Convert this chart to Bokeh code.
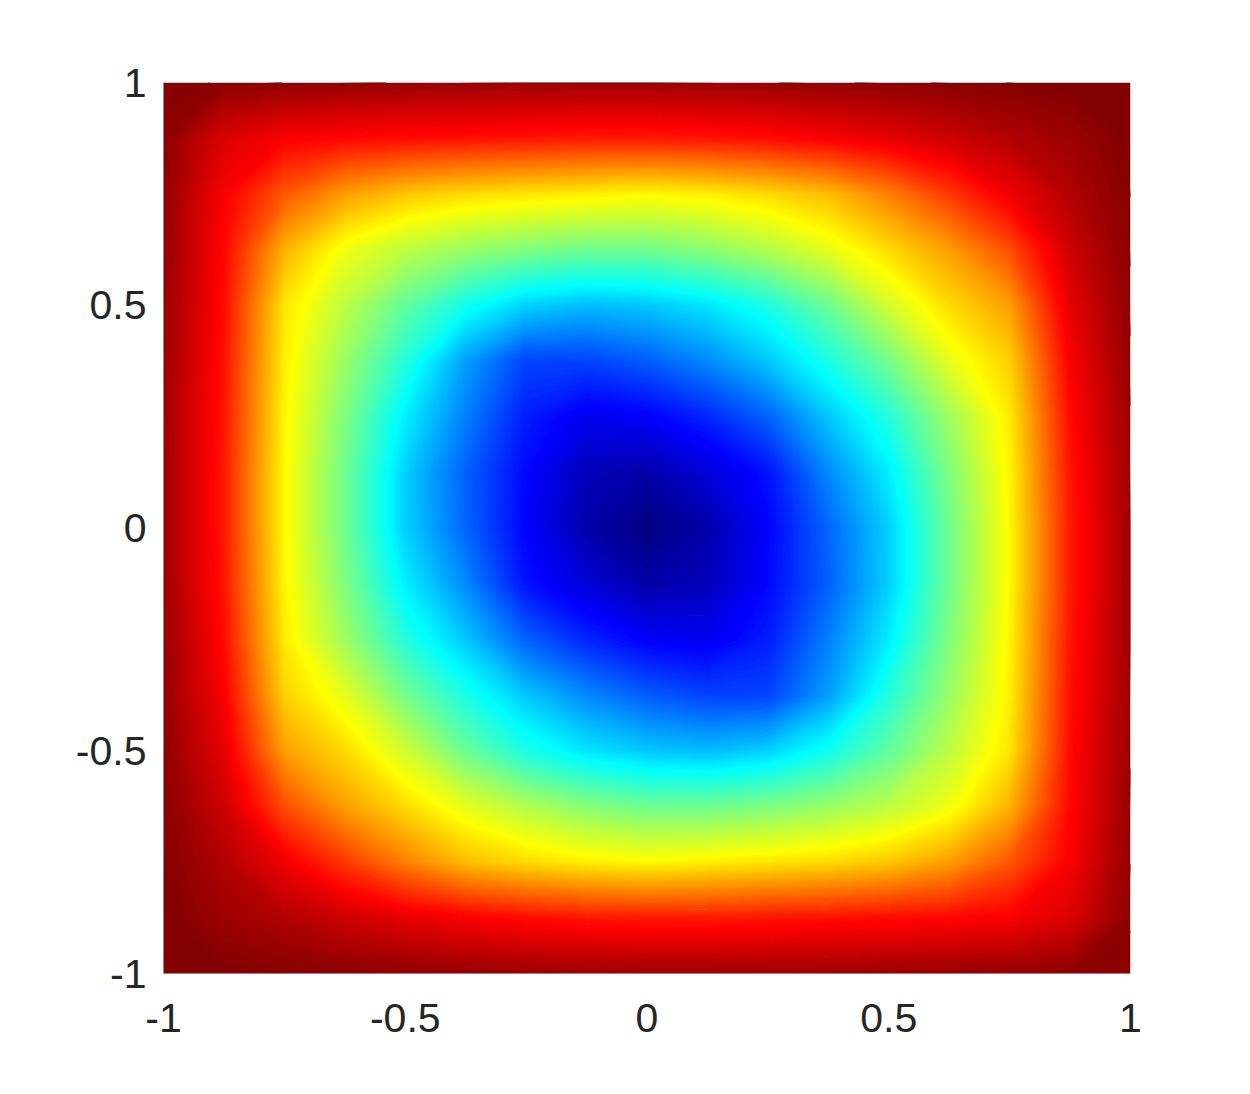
import numpy as np
from bokeh.plotting import figure
from bokeh.models import Range1d, FixedTicker
from bokeh.embed import file_html
from bokeh.resources import INLINE

# grid coordinates
x_values = [-1.0, -0.875, -0.75, -0.625, -0.5, -0.375, -0.25, -0.125, 0.0,
            0.125, 0.25, 0.375, 0.5, 0.625, 0.75, 0.875, 1.0]
y_values = [-1.0, -0.875, -0.75, -0.625, -0.5, -0.375, -0.25, -0.125, 0.0,
            0.125, 0.25, 0.375, 0.5, 0.625, 0.75, 0.875, 1.0]

# field values (fraction of colour range), one row per y
row_y_m1000 = [1.0, 1.0, 0.995, 0.99, 0.985, 0.98, 0.975, 0.972, 0.97, 0.97, 0.97, 0.972, 0.975, 0.978, 0.982, 0.988, 0.99]
row_y_m0875 = [1.0, 0.97, 0.95, 0.925, 0.9, 0.88, 0.865, 0.855, 0.85, 0.85, 0.855, 0.86, 0.865, 0.87, 0.88, 0.91, 0.988]
row_y_m0750 = [0.995, 0.95, 0.89, 0.82, 0.75, 0.69, 0.66, 0.64, 0.63, 0.64, 0.65, 0.66, 0.68, 0.72, 0.79, 0.88, 0.982]
row_y_m0625 = [0.99, 0.925, 0.8, 0.72, 0.66, 0.6, 0.55, 0.51, 0.485, 0.485, 0.5, 0.525, 0.56, 0.61, 0.70, 0.87, 0.978]
row_y_m0500 = [0.985, 0.9, 0.72, 0.66, 0.58, 0.48, 0.4, 0.35, 0.32, 0.31, 0.33, 0.39, 0.47, 0.56, 0.65, 0.865, 0.975]
row_y_m0375 = [0.98, 0.88, 0.67, 0.6, 0.49, 0.40, 0.32, 0.26, 0.215, 0.19, 0.19, 0.28, 0.41, 0.525, 0.64, 0.86, 0.972]
row_y_m0250 = [0.975, 0.865, 0.645, 0.53, 0.41, 0.32, 0.22, 0.16, 0.12, 0.11, 0.15, 0.25, 0.36, 0.5, 0.635, 0.855, 0.97]
row_y_m0125 = [0.972, 0.855, 0.635, 0.5, 0.36, 0.26, 0.14, 0.088, 0.04, 0.055, 0.13, 0.22, 0.33, 0.485, 0.63, 0.85, 0.97]
row_y_0000 = [0.97, 0.85, 0.63, 0.485, 0.33, 0.225, 0.125, 0.04, 0.0, 0.04, 0.125, 0.225, 0.33, 0.485, 0.63, 0.85, 0.97]
row_y_p0125 = [0.97, 0.85, 0.63, 0.485, 0.33, 0.22, 0.13, 0.055, 0.04, 0.088, 0.14, 0.26, 0.36, 0.5, 0.635, 0.855, 0.972]
row_y_p0250 = [0.97, 0.855, 0.635, 0.5, 0.36, 0.25, 0.15, 0.11, 0.12, 0.16, 0.22, 0.32, 0.41, 0.53, 0.645, 0.865, 0.975]
row_y_p0375 = [0.972, 0.86, 0.64, 0.525, 0.41, 0.28, 0.19, 0.19, 0.215, 0.26, 0.32, 0.40, 0.49, 0.6, 0.67, 0.88, 0.98]
row_y_p0500 = [0.975, 0.865, 0.65, 0.56, 0.47, 0.39, 0.33, 0.31, 0.32, 0.35, 0.4, 0.48, 0.58, 0.66, 0.72, 0.9, 0.985]
row_y_p0625 = [0.978, 0.87, 0.70, 0.61, 0.56, 0.525, 0.5, 0.485, 0.485, 0.51, 0.55, 0.6, 0.66, 0.72, 0.8, 0.925, 0.99]
row_y_p0750 = [0.982, 0.88, 0.79, 0.72, 0.68, 0.66, 0.65, 0.64, 0.63, 0.64, 0.66, 0.69, 0.75, 0.82, 0.89, 0.95, 0.995]
row_y_p0875 = [0.988, 0.91, 0.88, 0.87, 0.865, 0.86, 0.855, 0.85, 0.85, 0.855, 0.865, 0.88, 0.9, 0.925, 0.95, 0.97, 1.0]
row_y_p1000 = [0.99, 0.988, 0.982, 0.978, 0.975, 0.972, 0.97, 0.97, 0.97, 0.972, 0.975, 0.98, 0.985, 0.99, 0.995, 1.0, 1.0]

tick_values = [-1, -0.5, 0, 0.5, 1]
tick_labels = ["-1", "-0.5", "0", "0.5", "1"]

z = np.array([row_y_m1000, row_y_m0875, row_y_m0750, row_y_m0625, row_y_m0500,
              row_y_m0375, row_y_m0250, row_y_m0125, row_y_0000, row_y_p0125,
              row_y_p0250, row_y_p0375, row_y_p0500, row_y_p0625, row_y_p0750,
              row_y_p0875, row_y_p1000])


def jet(t):
    r = min(max(min(4 * t - 1.5, -4 * t + 4.5), 0), 1)
    g = min(max(min(4 * t - 0.5, -4 * t + 3.5), 0), 1)
    b = min(max(min(4 * t + 0.5, -4 * t + 2.5), 0), 1)
    return "#%02x%02x%02x" % (int(round(r * 255)), int(round(g * 255)), int(round(b * 255)))


levels = np.linspace(-0.001, 1.001, 161)
mids = 0.5 * (levels[:-1] + levels[1:])
fill_colors = [jet(min(max(t, 0), 1)) for t in mids]
line_colors = [jet(min(max(t, 0), 1)) for t in levels]

p = figure(frame_width=967, frame_height=891,
           min_border_left=163, min_border_right=112,
           min_border_top=82, min_border_bottom=113,
           x_range=Range1d(-1, 1), y_range=Range1d(-1, 1),
           output_backend="svg", toolbar_location=None)

p.contour(x_values, y_values, z, levels,
          fill_color=fill_colors, line_color=line_colors, line_width=1.6)

for ax, standoff in ((p.xaxis, 30), (p.yaxis, 17)):
    ax.ticker = FixedTicker(ticks=tick_values)
    ax.major_label_overrides = {v: l for v, l in zip(tick_values, tick_labels)}
    ax.major_label_text_font = "Liberation Sans"
    ax.major_label_text_font_size = "41px"
    ax.major_label_text_color = "#262626"
    ax.major_label_standoff = standoff
    ax.major_tick_in = 0
    ax.major_tick_out = 0
    ax.minor_tick_in = 0
    ax.minor_tick_out = 0
    ax.axis_line_color = "#8c8c8c"
    ax.axis_line_width = 1

p.grid.visible = False
p.outline_line_color = None
p.background_fill_color = "white"
p.border_fill_color = "white"

open("out.html", "w").write(file_html(p, INLINE))
